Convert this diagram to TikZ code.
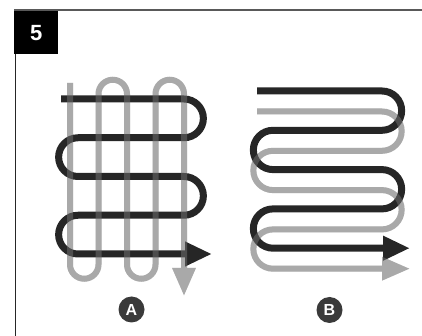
\documentclass[tikz,border=0pt]{standalone}
\usepackage{fontspec}
\setsansfont{Liberation Sans}
\usetikzlibrary{arrows.meta}
\definecolor{trackdark}{HTML}{262626}
\definecolor{trackgray}{HTML}{A9A9A9}
\definecolor{badgedark}{HTML}{3A3A3A}
\tikzset{
  darktrack/.style={draw=trackdark,line width=7pt,-{Triangle[length=27pt,width=23pt]}},
  graytrack/.style={draw=trackgray,line width=6pt,-{Triangle[length=28pt,width=22pt]}},
  graysheen/.style={graytrack,opacity=0.3},
  badge/.style={circle,fill=badgedark,text=white,minimum size=26pt,inner sep=0pt,
    font=\sffamily\bfseries\fontsize{16}{16}\selectfont},
}
\begin{document}
\begin{tikzpicture}[x=1pt,y=1pt]
\useasboundingbox (0,0) rectangle (422,336);
\draw[line width=2pt,black!65] (14,325.5) -- (422,325.5);
\draw[line width=1.5pt,black!85] (15.5,300) -- (15.5,0);
\node[fill=black,text=white,minimum width=44pt,minimum height=43pt,anchor=north west,
  font=\sffamily\bfseries\fontsize{22}{22}\selectfont] (step5) at (14,325) {5};
% A: vertical and horizontal passes
\path[save path=\gridgray] (70,253) -- (70,71.5) arc[start angle=180,end angle=360,radius=14.25]
  -- (98.5,242) arc[start angle=180,end angle=0,radius=14.25]
  -- (127,71.5) arc[start angle=180,end angle=360,radius=14.25]
  -- (155.5,242) arc[start angle=180,end angle=0,radius=14.25] -- (184,40);
\draw[graytrack,use path=\gridgray];
\draw[darktrack] (61,237) -- (184,237) arc[start angle=90,end angle=-90,radius=19.375]
  -- (78,198.25) arc[start angle=90,end angle=270,radius=19.375]
  -- (184,159.5) arc[start angle=90,end angle=-90,radius=19.375]
  -- (78,120.75) arc[start angle=90,end angle=270,radius=19.375] -- (212,82);
\draw[graysheen,use path=\gridgray];
% B: two offset serpentines
\foreach \dy/\sty in {-20.5/graytrack,0/darktrack,-20.5/graysheen}
  \draw[\sty,shift={(0,\dy)}] (257,245) -- (382,245) arc[start angle=90,end angle=-90,radius=19.65]
    -- (273,205.7) arc[start angle=90,end angle=270,radius=19.65]
    -- (382,166.4) arc[start angle=90,end angle=-90,radius=19.65]
    -- (273,127.1) arc[start angle=90,end angle=270,radius=19.65] -- (410,87.8);
\node[badge] (labelA) at (131.5,26.5) {A};
\node[badge] (labelB) at (329.5,26) {B};
\end{tikzpicture}
\end{document}
